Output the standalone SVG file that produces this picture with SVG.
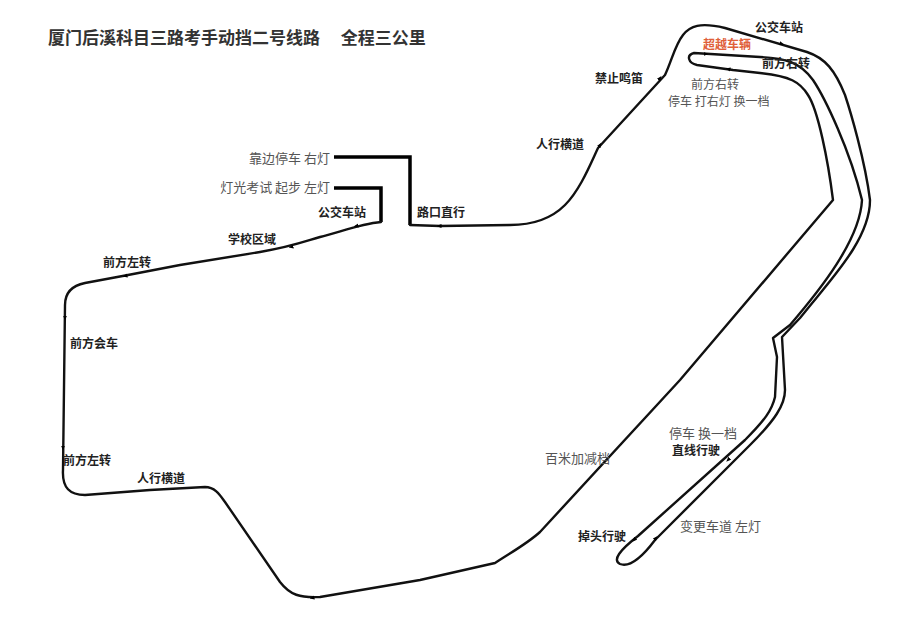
<svg xmlns="http://www.w3.org/2000/svg" width="911" height="636" viewBox="0 0 911 636">
<style>
.route{fill:none;stroke:#111;stroke-width:2.4;stroke-linejoin:round;stroke-linecap:round}
.thick{fill:none;stroke:#000;stroke-width:3.5}
.b{font-family:"Noto Sans CJK SC","Noto Sans",sans-serif;font-weight:bold;font-size:12px;fill:#222}
.n{font-family:"Noto Sans CJK SC","Noto Sans",sans-serif;font-size:13px;fill:#555}
.s{font-family:"Noto Sans CJK SC","Noto Sans",sans-serif;font-size:12px;fill:#555}
.t{font-family:"Noto Sans CJK SC","Noto Sans",sans-serif;font-weight:bold;font-size:17px;fill:#333}
.ar{fill:none;stroke:none}
</style>
<defs>
<marker id="m" viewBox="0 0 10 10" refX="5" refY="5" markerWidth="5" markerHeight="5" orient="auto" markerUnits="userSpaceOnUse"><path d="M0,1 L10,5 L0,9 z" fill="#000"/></marker>
</defs>
<rect width="911" height="636" fill="#fff"/>
<text class="t" x="48" y="44">厦门后溪科目三路考手动挡二号线路　 全程三公里</text>
<g id="connectors">
<path class="thick" d="M334,188 H381 V222"/>
<path class="thick" d="M334,157 H410 V225"/>
<path class="route" d="M381,222 C360,224 340,232 320,237 C300,243 290,247 260,252 L180,265 L128,275 L85,283 C70,286 65,295 65,305 L63,470 C62,488 70,495 85,495 L150,490 L205,487 C215,487 220,495 225,502 L280,582 C290,595 300,598 320,597 L420,580 L495,563 C515,550 528,543 540,532 L680,380 L833,200 C828,160 818,110 808,95 C800,82 790,76 760,73 L733,70 L697,65 C688,63 686,55 694,53 L760,57 C785,58 800,62 813,80 C825,98 850,150 862,200 C860,240 820,290 790,325 L773,338 L777,357 L775,397 C772,410 765,420 745,440 L638,536 C620,550 612,560 620,564 C628,567 640,560 655,540 L750,445 C775,420 785,405 785,390 L782,337 L800,318 C830,280 870,240 870,200 C865,160 850,110 845,95 C835,70 825,58 807,52 L725,28 C700,22 690,26 683,35 C675,45 672,60 665,75 L598,148 C590,165 580,190 565,205 C550,220 530,225 510,225 L440,226 L410,225"/>
<path class="ar" marker-end="url(#m)" d="M362,225 L356,226"/>
<path class="ar" marker-end="url(#m)" d="M297,246 L291,247"/>
<path class="ar" marker-end="url(#m)" d="M131,275 L125,276"/>
<path class="ar" marker-end="url(#m)" d="M65,310 L65,318"/>
<path class="ar" marker-end="url(#m)" d="M63,440 L63,448"/>
<path class="ar" marker-end="url(#m)" d="M318,597 L312,598"/>
<path class="ar" marker-end="url(#m)" d="M638,536 L634,540"/>
<path class="ar" marker-end="url(#m)" d="M651,544 L656,538"/>
<path class="ar" marker-end="url(#m)" d="M733,455 L728,460"/>
<path class="ar" marker-end="url(#m)" d="M734,70 L728,69"/>
<path class="ar" marker-end="url(#m)" d="M700,54 L706,54"/>
<path class="ar" marker-end="url(#m)" d="M776,42 L782,44"/>
<path class="ar" marker-end="url(#m)" d="M657,82 L660,78"/>
<path class="ar" marker-end="url(#m)" d="M597,150 L600,145"/>
<path class="ar" marker-end="url(#m)" d="M445,226 L439,226"/>
</g>
<g id="labels">
<text class="n" x="330" y="163" text-anchor="end">靠边停车 右灯</text>
<text class="n" x="330" y="192" text-anchor="end">灯光考试  起步 左灯</text>
<text class="b" x="318" y="217">公交车站</text>
<text class="b" x="417" y="217">路口直行</text>
<text class="b" x="228" y="244">学校区域</text>
<text class="b" x="103" y="267">前方左转</text>
<text class="b" x="70" y="348">前方会车</text>
<text class="b" x="63" y="465">前方左转</text>
<text class="b" x="137" y="483">人行横道</text>
<text class="b" x="536" y="149">人行横道</text>
<text class="b" x="595" y="83">禁止鸣笛</text>
<text class="b" x="755" y="32">公交车站</text>
<text class="b" x="703" y="49" style="fill:#e0603a">超越车辆</text>
<text class="b" x="762" y="68">前方右转</text>
<text class="s" x="691" y="89">前方右转</text>
<text class="s" x="668" y="106">停车  打右灯  换一档</text>
<text class="n" x="545" y="463">百米加减档</text>
<text class="n" x="669" y="438">停车  换一档</text>
<text class="b" x="672" y="455">直线行驶</text>
<text class="b" x="578" y="541">掉头行驶</text>
<text class="n" x="680" y="531">变更车道  左灯</text>
</g>
</svg>
